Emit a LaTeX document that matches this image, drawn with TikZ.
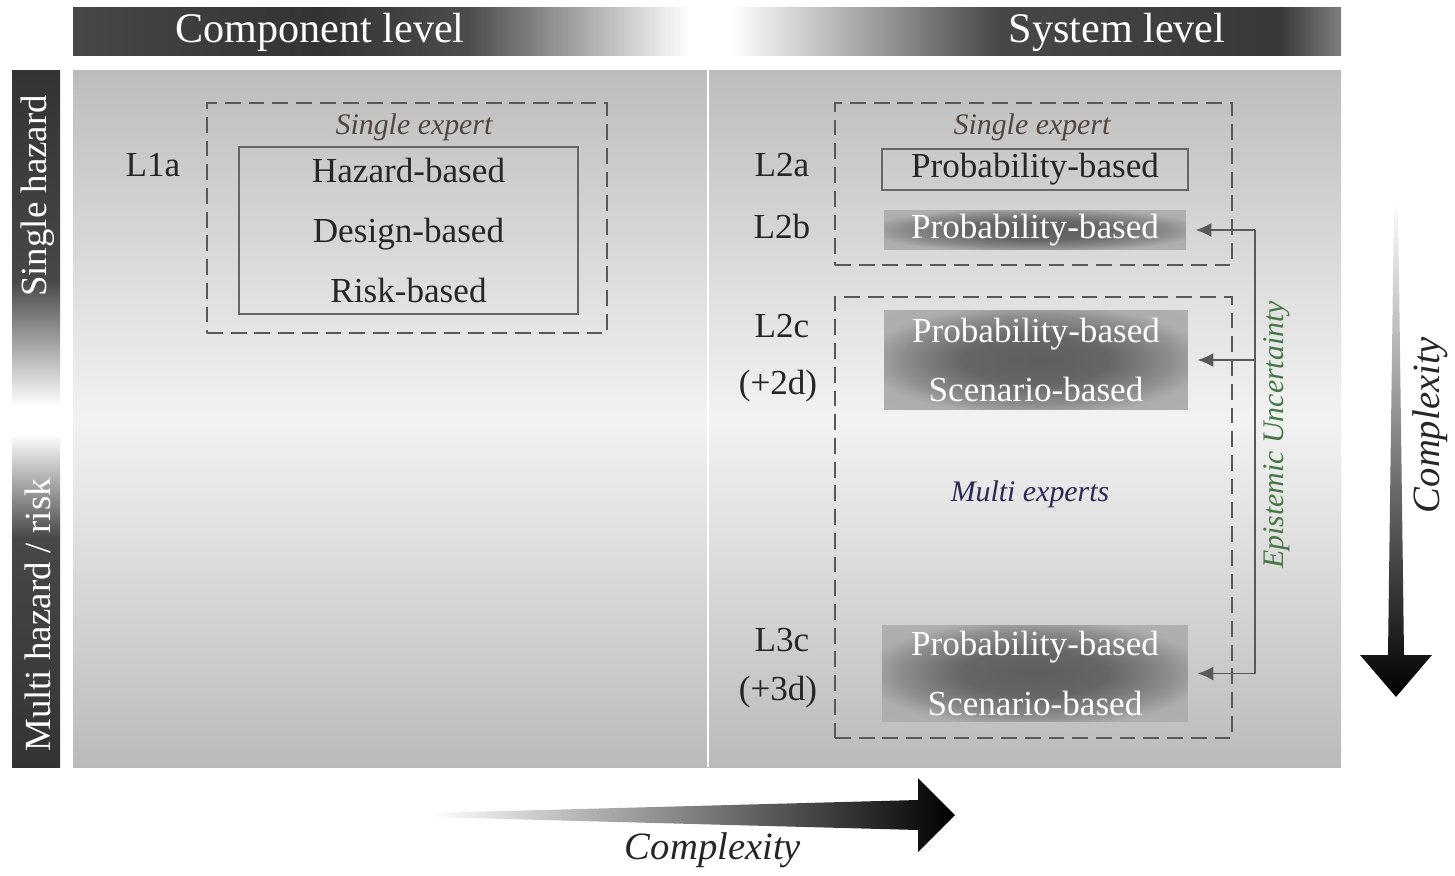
\documentclass[tikz,border=0pt]{standalone}
\usepackage{fontspec}
\setmainfont{Liberation Serif}
\usetikzlibrary{arrows.meta,calc}

\definecolor{eugreen}{RGB}{70,118,70}
\definecolor{sebrown}{RGB}{82,70,62}
\definecolor{menavy}{RGB}{42,42,82}

\pgfdeclarehorizontalshading{complevel}{100bp}{color(0bp)=(black!72); color(25bp)=(black!72); color(45bp)=(black!80); color(57bp)=(black!70); color(75bp)=(white); color(100bp)=(white)}
\pgfdeclarehorizontalshading{syslevel}{100bp}{color(0bp)=(white); color(25bp)=(white); color(47bp)=(black!72); color(70bp)=(black!78); color(75bp)=(black!50); color(100bp)=(black!50)}
\pgfdeclareverticalshading{singlebar}{100bp}{color(0bp)=(white); color(27bp)=(white); color(45bp)=(black!72); color(75bp)=(black!80); color(100bp)=(black!80)}
\pgfdeclareverticalshading{multibar}{100bp}{color(0bp)=(black!80); color(25bp)=(black!80); color(58bp)=(black!72); color(73bp)=(white); color(100bp)=(white)}
\pgfdeclareradialshading{boxshade}{\pgfpoint{0bp}{0bp}}{color(0bp)=(black!63); color(12bp)=(black!60); color(22bp)=(black!45); color(28bp)=(black!32); color(50bp)=(black!30)}

\begin{document}
\begin{tikzpicture}[x=0.02cm,y=-0.02cm,
  every node/.style={inner sep=0pt,outer sep=0pt},
  bartext/.style={text=white,font=\fontsize{24}{28}\selectfont},
  sidetext/.style={text=white,rotate=90,font=\fontsize{21}{25}\selectfont},
  lvl/.style={text=black!85,font=\fontsize{20}{24}\selectfont},
  meth/.style={text=black!85,font=\fontsize{20}{34}\selectfont,align=center},
  expert/.style={font=\itshape\fontsize{17}{20}\selectfont},
  plainbox/.style={meth,draw=black!60,line width=.8pt},
  shadebox/.style={meth,text=white,shade,shading=boxshade},
  groupbox/.style={draw=black!65,line width=.8pt,dash pattern=on 9pt off 4.5pt},
  euline/.style={draw=black!65,line width=.8pt},
  eu/.style={euline,-{Latex[length=9pt,width=8pt]},shorten >=5.5pt},
  cplx/.style={font=\itshape\fontsize{22}{26}\selectfont,text=black!85}]
\useasboundingbox (0,0) rectangle (1455,876);

% headers
\shade[shading=complevel] (73,7) rectangle (690,55);
\shade[shading=syslevel] (730,7) rectangle (1341,55);
\node[bartext] (comp) at (320,32) {Component level};
\node[bartext] (sys) at (1117,32) {System level};

% panel
\shade[top color=black!26,bottom color=black!27,middle color=black!5] (73,70) rectangle (1341,767);
\draw[white,line width=1.2pt] (708,70) -- (708,767);

% side bars
\shade[shading=singlebar] (12,70) rectangle (60,420);
\shade[shading=multibar] (12,420) rectangle (60,767);
\node[sidetext] (single) at (38,196) {Single hazard};
\node[sidetext] (multi) at (38,615) {Multi hazard / risk};

% component level
\node[groupbox,minimum width=8cm,minimum height=4.6cm] (g1) at (407,218) {};
\node[expert,text=sebrown] (se1) at (414,127) {Single expert};
\node[plainbox,minimum width=6.78cm,minimum height=3.34cm] (p1) at (408.5,230.5)
  {Hazard-based\\Design-based\\Risk-based};
\node[lvl] (l1a) at (153,165) {L1a};

% system level
\node[groupbox,minimum width=7.94cm,minimum height=3.24cm] (g2) at (1033.5,184) {};
\node[groupbox,minimum width=7.94cm,minimum height=8.82cm] (g3) at (1033.5,517.5) {};
\node[expert,text=sebrown] (se2) at (1032,127) {Single expert};
\node[expert,text=menavy] (me) at (1030,494) {Multi experts};

\node[plainbox,minimum width=6.12cm,minimum height=0.82cm] (p2a) at (1035,169.5) {Probability-based};
\node[shadebox,minimum width=6.04cm,minimum height=0.8cm] (p2b) at (1035,230) {Probability-based};
\node[shadebox,minimum width=6.08cm,minimum height=2cm] (p2c) at (1036,360)
  {Probability-based\\Scenario-based};
\node[shadebox,minimum width=6.12cm,minimum height=1.94cm] (p3c) at (1035,673.5)
  {Probability-based\\Scenario-based};

\node[lvl] (l2a) at (782,165) {L2a};
\node[lvl] (l2b) at (782,226) {L2b};
\node[lvl] (l2c) at (782,326) {L2c};
\node[lvl] (d2) at (778,386) {(+2d)};
\node[lvl] (l3c) at (782,640) {L3c};
\node[lvl] (d3) at (778,692) {(+3d)};

% epistemic uncertainty
\coordinate (eux) at (1255,0);
\coordinate (eutop) at (p2b.east -| eux);
\coordinate (eumid) at (p2c.east -| eux);
\coordinate (eubot) at (p3c.east -| eux);
\draw[euline] (eutop) -- (eubot);
\draw[eu] (eutop) -- (p2b);
\draw[eu] (eumid) -- (p2c);
\draw[eu] (eubot) -- (p3c);
\node[expert,text=eugreen,rotate=90] (epi) at (1277,435) {Epistemic Uncertainty};

% complexity arrows
\shade[top color=white,bottom color=black] (1394,200) -- (1398,200) -- (1404,655) -- (1432,655)
  -- (1396,697) -- (1360,655) -- (1388,655) -- cycle;
\node[cplx,rotate=90] (cv) at (1430,425) {Complexity};
\shade[left color=white,right color=black] (430,813) -- (918,800) -- (918,778) -- (955,815)
  -- (918,852) -- (918,830) -- (430,817) -- cycle;
\node[cplx] (ch) at (713,850) {Complexity};

\end{tikzpicture}
\end{document}
